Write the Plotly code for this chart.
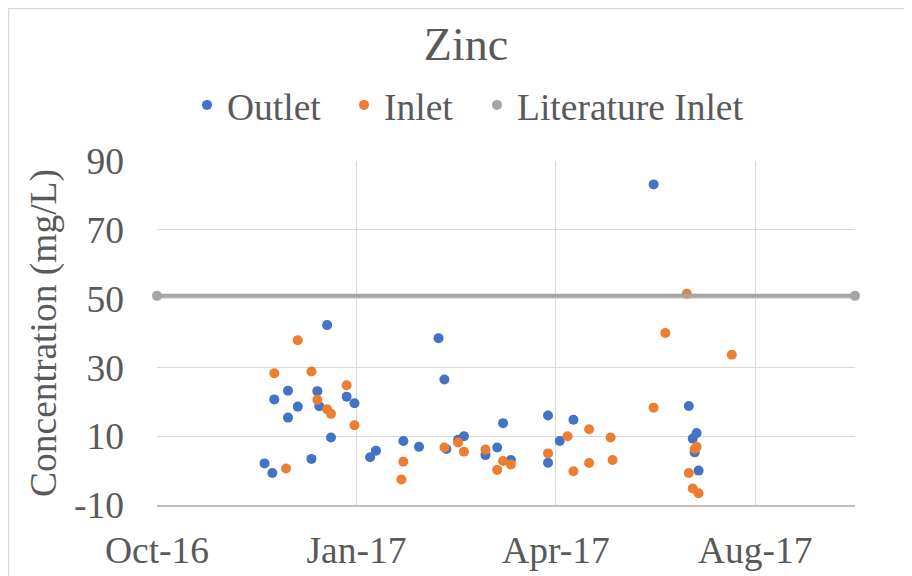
import plotly.graph_objects as go

# Zinc concentrations
outlet_dates = [
    "2016-11-25", "2016-11-29", "2016-11-30", "2016-12-07", "2016-12-07", "2016-12-12",
    "2016-12-19", "2016-12-22", "2016-12-23", "2016-12-27", "2016-12-29", "2017-01-06",
    "2017-01-10", "2017-01-18", "2017-01-21", "2017-02-04", "2017-02-12", "2017-02-22",
    "2017-02-25", "2017-02-26", "2017-03-04", "2017-03-07", "2017-03-18", "2017-03-24",
    "2017-03-27", "2017-03-31", "2017-04-19", "2017-04-19", "2017-04-25", "2017-05-02",
    "2017-06-12", "2017-06-30", "2017-07-04", "2017-07-02", "2017-07-03", "2017-07-05",
]
outlet_conc = [
    2.1, -0.7, 20.7, 23.2, 15.4, 18.6,
    3.4, 23.1, 18.7, 42.3, 9.6, 21.5,
    19.6, 3.9, 5.8, 8.6, 6.9, 38.5,
    26.5, 6.3, 9.0, 10.0, 4.5, 6.7,
    13.8, 3.1, 16.0, 2.3, 8.6, 14.8,
    83.2, 18.8, 10.9, 9.3, 5.3, 0.0,
]

inlet_dates = [
    "2016-11-30", "2016-12-06", "2016-12-12", "2016-12-19", "2016-12-22", "2016-12-27",
    "2016-12-29", "2017-01-06", "2017-01-10", "2017-02-04", "2017-02-03", "2017-02-25",
    "2017-03-04", "2017-03-07", "2017-03-18", "2017-03-24", "2017-03-27", "2017-03-31",
    "2017-04-19", "2017-04-29", "2017-05-02", "2017-05-10", "2017-05-10", "2017-05-21",
    "2017-05-22", "2017-06-12", "2017-06-18", "2017-06-29", "2017-07-04", "2017-07-03",
    "2017-06-30", "2017-07-02", "2017-07-05", "2017-07-22",
]
inlet_conc = [
    28.3, 0.6, 37.9, 28.8, 20.6, 17.8,
    16.5, 24.8, 13.2, 2.6, -2.6, 6.7,
    8.2, 5.5, 6.1, 0.2, 2.8, 1.8,
    5.0, 10.0, -0.2, 12.0, 2.2, 9.6,
    3.1, 18.3, 40.0, 51.4, 6.9, 6.3,
    -0.7, -5.2, -6.6, 33.7,
]

literature_dates = ["2016-10-01", "2017-09-23"]
literature_conc = [50.8, 50.8]

x_range = ["2016-10-01", "2017-09-23"]
x_tickvals = ["2016-10-01", "2017-01-11", "2017-04-23", "2017-08-03"]
x_ticktext = ["Oct-16", "Jan-17", "Apr-17", "Aug-17"]
y_tickvals = [-10, 10, 30, 50, 70, 90]
y_ticktext = ["-10", "10", "30", "50", "70", "90"]

FONT = "Liberation Serif, Times New Roman, serif"
TEXT = "#595959"
BLUE, ORANGE, GREY = "#4472C4", "#ED7D31", "#A5A5A5"
FS = 37.5

# the page body adds an 8px offset, so the figure is laid out 8px up/left
W, H = 904, 568
ML, MR, MT, MB = 149, 57, 153, 71

fig = go.Figure()
fig.add_trace(go.Scatter(
    x=outlet_dates, y=outlet_conc, mode="markers", name="Outlet",
    marker=dict(color=BLUE, size=10), legend="legend",
))
fig.add_trace(go.Scatter(
    x=inlet_dates, y=inlet_conc, mode="markers", name="Inlet",
    marker=dict(color=ORANGE, size=10), legend="legend2",
))
fig.add_trace(go.Scatter(
    x=literature_dates, y=literature_conc, mode="lines+markers", name="Literature Inlet",
    line=dict(color=GREY, width=4), marker=dict(color=GREY, size=10),
    cliponaxis=False, showlegend=False,
))
# legend entry for the literature line shows only its dot
fig.add_trace(go.Scatter(
    x=[None], y=[None], mode="markers", name="Literature Inlet",
    marker=dict(color=GREY, size=10), legend="legend3",
))

# light chart-area border
pw, ph = W - ML - MR, H - MT - MB
fig.add_shape(
    type="rect", xref="paper", yref="paper", layer="below",
    x0=(0.5 - ML) / pw, x1=(W + 20 - ML) / pw,
    y0=-(MB + 20) / ph, y1=1 + (MT - 0.5) / ph,
    line=dict(color="#d9d9d9", width=1.5),
)

legend_common = dict(
    orientation="h", font=dict(size=FS, color=TEXT), bgcolor="rgba(0,0,0,0)",
    xref="container", xanchor="left",
    yref="container", y=1 - 97 / H, yanchor="middle",
)
fig.update_layout(
    width=W, height=H,
    margin=dict(l=ML, r=MR, t=MT, b=MB, autoexpand=False),
    paper_bgcolor="white", plot_bgcolor="white",
    font=dict(family=FONT, color=TEXT, size=FS),
    title=dict(
        text="Zinc", font=dict(size=46, color=TEXT),
        xref="container", x=458 / W, xanchor="center",
        yref="container", y=1 - 36 / H, yanchor="middle",
    ),
    legend=dict(x=(199 - 20) / W, **legend_common),
    legend2=dict(x=(356 - 20) / W, **legend_common),
    legend3=dict(x=(489 - 20) / W, **legend_common),
    showlegend=True,
)
fig.update_xaxes(
    type="date", range=x_range,
    tickvals=x_tickvals, ticktext=x_ticktext,
    showgrid=True, gridcolor="#d9d9d9", gridwidth=1.3,
    showline=True, linecolor="#bfbfbf", linewidth=1.5,
    zeroline=False, ticks="", ticklabelstandoff=11,
    tickfont=dict(size=FS, color=TEXT),
)
fig.update_yaxes(
    range=[-10, 90], tickvals=y_tickvals, ticktext=y_ticktext,
    showgrid=True, gridcolor="#d9d9d9", gridwidth=1.3,
    showline=False, zeroline=False, ticks="", ticklabelstandoff=32,
    tickfont=dict(size=FS, color=TEXT),
    title=dict(text="Concentration (mg/L)", font=dict(size=FS, color=TEXT), standoff=5),
)

fig.write_html("out.html")
